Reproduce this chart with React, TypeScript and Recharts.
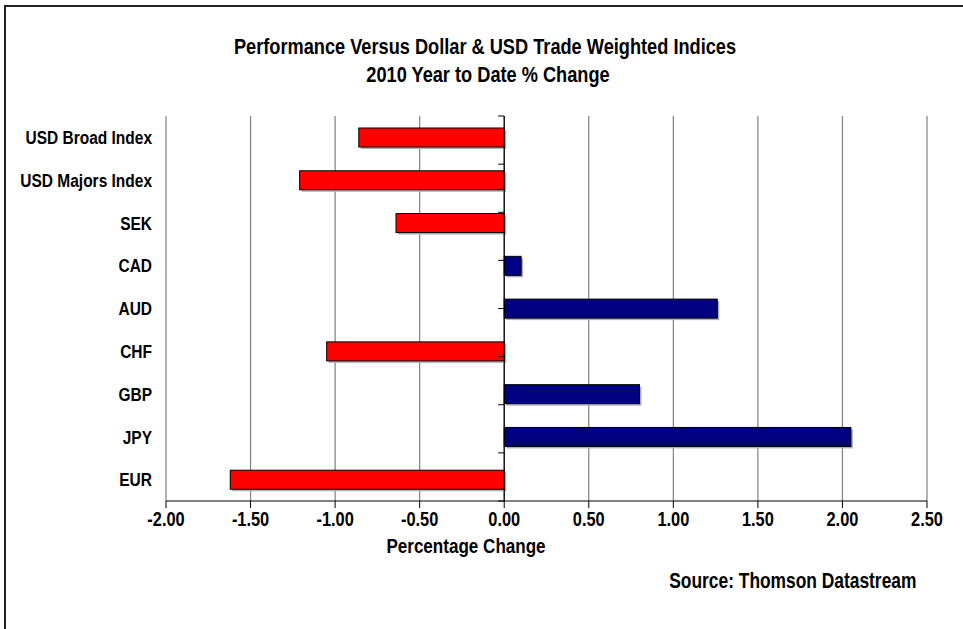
import { BarChart, Bar, XAxis, YAxis, CartesianGrid, ReferenceLine, Cell } from "recharts";

const categories = ["USD Broad Index", "USD Majors Index", "SEK", "CAD", "AUD", "CHF", "GBP", "JPY", "EUR"];
const changes = [-0.86, -1.21, -0.64, 0.1, 1.26, -1.05, 0.8, 2.05, -1.62];
const xTicks = [-2, -1.5, -1, -0.5, 0, 0.5, 1, 1.5, 2, 2.5];
const boundaries = [0, 1, 2, 3, 4, 5, 6, 7, 8, 9];

const data = categories.map((name, i) => ({ name, value: changes[i] }));

// no Arial Narrow here: squeeze Liberation Sans Bold instead
const FONT = "'Liberation Sans', Arial, sans-serif";
const SQ = 0.82;

function ShadowBar(props: any) {
  const { x, y, width, height, fill } = props;
  const left = Math.min(x, x + width);
  const w = Math.abs(width);
  return (
    <g>
      <rect x={left + 2} y={y + 2} width={w} height={height} fill="#b0b0b0" />
      <rect x={left} y={y} width={w} height={height} fill={fill} stroke="#000" strokeWidth={1} />
    </g>
  );
}

function NarrowTick(props: any) {
  const { x, y, payload, textAnchor, dy, fmt, size } = props;
  const text = fmt ? fmt(payload.value) : payload.value;
  return (
    <g transform={`translate(${x},${y})`}>
      <text
        transform={`scale(${SQ},1)`}
        textAnchor={textAnchor}
        dy={dy}
        fill="#000"
        fontSize={size}
        fontWeight="bold"
        fontFamily={FONT}
      >
        {text}
      </text>
    </g>
  );
}

// text placed by the centre of its capitals
function Label({ text, cx, cy, size, right }: { text: string; cx: number; cy: number; size: number; right?: boolean }) {
  const top = cy - 0.4885 * size;
  const style: any = {
    position: "absolute",
    top,
    fontSize: size,
    lineHeight: 1,
    whiteSpace: "nowrap",
  };
  if (right) {
    style.right = 963 - cx;
    style.transform = `scaleX(${SQ})`;
    style.transformOrigin = "right center";
  } else {
    style.left = cx - 400;
    style.width = 800;
    style.textAlign = "center";
    style.transform = `scaleX(${SQ})`;
  }
  return <div style={style}>{text}</div>;
}

export default function App() {
  return (
    <div style={{ position: "absolute", left: 0, top: 0, width: 963, height: 629, background: "#fff", overflow: "hidden", fontFamily: FONT, fontWeight: "bold", color: "#000" }}>
      <div style={{ position: "absolute", left: 4, top: 5, width: 1000, height: 700, borderLeft: "2px solid #222", borderTop: "2px solid #222" }} />
      <Label text="Performance Versus Dollar & USD Trade Weighted Indices" cx={485} cy={47} size={22.2} />
      <Label text="2010 Year to Date % Change" cx={488} cy={75} size={22.2} />
      <div style={{ position: "absolute", left: 0, top: 0 }}>
        <BarChart
          width={963}
          height={629}
          data={data}
          layout="vertical"
          margin={{ top: 116, right: 36, bottom: 0, left: 0 }}
          barSize={19}
        >
          <CartesianGrid horizontal={false} stroke="#808080" strokeWidth={1.2} />
          <XAxis
            type="number"
            domain={[-2, 2.5]}
            ticks={xTicks}
            interval={0}
            axisLine={{ stroke: "#000" }}
            tickLine={{ stroke: "#000" }}
            tickSize={7}
            tickMargin={4}
            height={128}
            tick={<NarrowTick fmt={(v: number) => v.toFixed(2)} dy="0.71em" size={20} />}
          />
          <YAxis
            type="category"
            dataKey="name"
            width={166}
            axisLine={false}
            tickLine={false}
            tickMargin={8}
            interval={0}
            tick={<NarrowTick dy="0.355em" size={18.9} />}
          />
          <YAxis yAxisId="num" type="number" domain={[0, 9]} hide />
          <ReferenceLine yAxisId="num" y={9} stroke="#a0a0a0" />
          <ReferenceLine x={0} stroke="#000" strokeWidth={1.2} />
          {boundaries.map((b) => (
            <ReferenceLine
              key={b}
              yAxisId="num"
              segment={[{ x: -0.036, y: b }, { x: 0, y: b }]}
              stroke="#000"
            />
          ))}
          <Bar dataKey="value" isAnimationActive={false} shape={<ShadowBar />}>
            {data.map((d, i) => (
              <Cell key={i} fill={d.value < 0 ? "#ff0000" : "#000080"} />
            ))}
          </Bar>
        </BarChart>
      </div>
      <Label text="Percentage Change" cx={466} cy={546} size={20.8} />
      <Label text="Source: Thomson Datastream" cx={916} cy={580} size={21.2} right />
    </div>
  );
}
